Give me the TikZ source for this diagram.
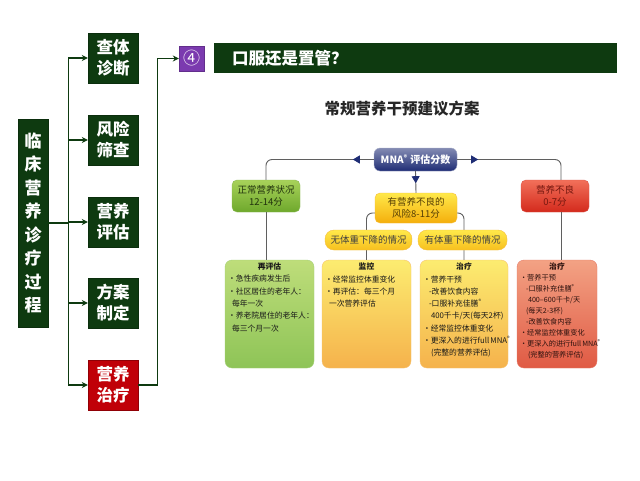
\documentclass[tikz,border=0pt]{standalone}
\usepackage{fontspec}
\setmainfont{Noto Sans CJK SC}
\usetikzlibrary{arrows.meta,decorations.markings}

\definecolor{deepgreen}{HTML}{0E3A10}
\definecolor{stepred}{HTML}{C00008}
\definecolor{numpurple}{HTML}{7B3AAF}
\definecolor{arrowblue}{HTML}{1F2D75}
\definecolor{linkgray}{HTML}{5F5F5F}
\definecolor{okgreenA}{HTML}{A8D25A}
\definecolor{okgreenB}{HTML}{6EA82C}
\definecolor{riskA}{HTML}{FFE94A}
\definecolor{riskB}{HTML}{F4AE0C}
\definecolor{poorA}{HTML}{F2705A}
\definecolor{poorB}{HTML}{D32A1C}
\definecolor{paleA}{HTML}{BEDD7A}
\definecolor{paleB}{HTML}{8EC457}
\definecolor{sunA}{HTML}{FCEC70}
\definecolor{sunB}{HTML}{F5B24C}
\definecolor{roseA}{HTML}{F3A284}
\definecolor{roseB}{HTML}{E05A44}

\tikzset{
  stepbox/.style={draw=deepgreen!80!black, fill=deepgreen, text=white, minimum width=50pt, minimum height=50pt, inner sep=0pt, align=center, font=\fontsize{16.5}{21}\selectfont\bfseries},
  flow/.style={draw=deepgreen, line width=1.3pt, -{Stealth[length=6pt,width=6pt]}},
  link/.style={draw=linkgray, line width=0.9pt, rounded corners=6pt},
  midtip/.style={postaction={decorate}, decoration={markings, mark=at position #1 with {\arrow{Triangle[length=7pt,width=8pt,color=arrowblue]}}}},
  scorebox/.style={rounded corners=5pt, minimum width=68pt, minimum height=32pt, inner sep=1pt, align=center, font=\fontsize{9.5}{12.5}\selectfont},
  casebox/.style={rounded corners=9pt, minimum width=87pt, minimum height=20pt, inner sep=0pt, draw=riskB!80!white, top color=riskA, bottom color=riskB!70!riskA, text=black!75, font=\fontsize{9.5}{9.5}\selectfont},
  planbox/.style={rounded corners=7pt, inner xsep=3pt, inner ysep=3pt, text=black!90, font=\fontsize{7.8}{12.3}\selectfont},
}

\begin{document}
\begin{tikzpicture}[x=1pt, y=-1pt]
\useasboundingbox[fill=white] (0,0) rectangle (640,480);

% clinical flow
\node[stepbox, minimum width=30pt, minimum height=208pt, font=\fontsize{17}{23.5}\selectfont\bfseries] (lead) at (33,223) {临\\床\\营\\养\\诊\\疗\\过\\程};

\foreach \n/\y/\t in {1/58/查体\\诊断, 2/140/风险\\筛查, 3/222/营养\\评估, 4/303/方案\\制定}
  \node[stepbox] (s\n) at (113,\y) {\t};
\node[stepbox, fill=stepred, draw=stepred!75!black] (s5) at (113,385) {营养\\治疗};

\foreach \n in {1,...,5}
  \draw[flow] (lead.east) -- ++(20,0) |- (s\n.west);

\node[fill=numpurple, draw=numpurple!80!black, text=white, minimum size=25pt, inner sep=0pt, font=\fontsize{17}{17}\selectfont] (num) at (191.5,58.5) {④};
\draw[flow] (s5.east) -- ++(19,0) |- (num.west);

\node[fill=deepgreen, text=white, text width=367pt, inner xsep=18pt, minimum height=30pt, align=left, font=\fontsize{16.5}{16.5}\selectfont\bfseries] (bar) at (415.5,58) {口服还是置管？};

% MNA scheme
\node[font=\fontsize{15.5}{15.5}\selectfont\bfseries, text=black!85] (head) at (402,109) {常规营养干预建议方案};

\node[rounded corners=6pt, draw=arrowblue!40!white, top color=arrowblue!55!white, bottom color=arrowblue, text=white, minimum width=83pt, minimum height=23pt, inner sep=0pt, font=\fontsize{10}{10}\selectfont\bfseries] (mna) at (415.5,159.5) {MNA\textsuperscript{®} 评估分数};

\node[scorebox, draw=okgreenB!80!white, top color=okgreenA, bottom color=okgreenB, text=black!70!okgreenB] (normal) at (266,196) {正常营养状况\\12-14分};
\node[scorebox, minimum width=82pt, minimum height=30pt, draw=riskB!80!white, top color=riskA, bottom color=riskB, text=black!65!riskB] (risk) at (416,208) {有营养不良的\\风险8-11分};
\node[scorebox, draw=poorB!80!white, top color=poorA, bottom color=poorB, text=black!45!poorB] (poor) at (555,196) {营养不良\\0-7分};

\node[planbox, draw=paleB!80!white, top color=paleA, bottom color=paleB] (recheck) at (269.5,314) {\parbox[c][102pt][t]{83pt}{\centering\textbf{再评估}\par\raggedright
•急性疾病发生后\\
•社区居住的老年人：\\
\hspace*{4pt}每年一次\\
•养老院居住的老年人：\\
\hspace*{4pt}每三个月一次}};
\node[planbox, draw=sunB!80!white, top color=sunA, bottom color=sunB] (watch) at (366.5,314) {\parbox[c][102pt][t]{83pt}{\centering\textbf{监控}\par\raggedright
•经常监控体重变化\\
•再评估：每三个月\\
\hspace*{4pt}一次营养评估}};
\node[planbox, draw=sunB!80!white, top color=sunA, bottom color=sunB] (cure) at (464,314) {\parbox[c][102pt][t]{82pt}{\centering\textbf{治疗}\par\raggedright
•营养干预\\
\hspace*{6pt}-改善饮食内容\\
\hspace*{6pt}-口服补充佳膳\textsuperscript{®}\\
\hspace*{8pt}400千卡/天(每天2杯)\\
•经常监控体重变化\\
•更深入的进行full~MNA\textsuperscript{®}\\
\hspace*{8pt}(完整的营养评估)}};
\node[planbox, draw=roseB!80!white, top color=roseA, bottom color=roseB, text=black!80!roseB, font=\fontsize{7.2}{11}\selectfont] (cure2) at (557,314) {\parbox[c][102pt][t]{74pt}{\centering\textbf{\fontsize{7.8}{11}\selectfont 治疗}\par\raggedright
•营养干预\\
\hspace*{6pt}-口服补充佳膳\textsuperscript{®}\\
\hspace*{8pt}400–600千卡/天\\
\hspace*{6pt}(每天2-3杯)\\
\hspace*{6pt}-改善饮食内容\\
•经常监控体重变化\\
•更深入的进行full~MNA\textsuperscript{®}\\
\hspace*{8pt}(完整的营养评估)}};

\draw[link, midtip=21pt] (mna.west) -| (normal.north);
\draw[link, midtip=21pt] (mna.east) -| ([xshift=6pt]poor.north);
\draw[link, midtip=12pt] (mna.south) -- (risk.north);
\draw[link] (normal.south) -- (normal.south |- recheck.north);
\draw[link] ([xshift=6pt]poor.south) -- ([xshift=6pt]poor.south |- cure2.north);
\draw[link] ([yshift=-5pt]risk.west) -| (watch.north);
\draw[link] ([yshift=-5pt]risk.east) -| (cure.north);

\node[casebox] (nodrop) at (368.5,240) {无体重下降的情况};
\node[casebox, minimum width=89pt] (drop) at (462.5,240) {有体重下降的情况};

\end{tikzpicture}
\end{document}
